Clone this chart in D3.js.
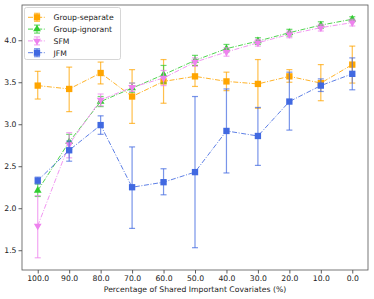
<!DOCTYPE html>
<html><head><meta charset="utf-8">
<script src="https://cdn.jsdelivr.net/npm/d3@7"></script>
<style>body{margin:0;background:#fff}svg{display:block}text{font-family:"DejaVu Sans",sans-serif}</style>
</head><body><svg id="c" width="374" height="299"></svg>
<script>
const xLabels = ["100.0","90.0","80.0","70.0","60.0","50.0","40.0","30.0","20.0","10.0","0.0"];
const xValues = [100,90,80,70,60,50,40,30,20,10,0];
const yTicks = [1.5,2.0,2.5,3.0,3.5,4.0];
const seriesNames = ["Group-separate","Group-ignorant","SFM","JFM"];
const sepMean = [3.46,3.42,3.61,3.33,3.51,3.57,3.51,3.48,3.57,3.49,3.71];
const sepLo   = [3.30,3.15,3.48,3.01,3.25,3.45,3.40,3.19,3.50,3.28,3.49];
const sepHi   = [3.63,3.68,3.74,3.65,3.77,3.70,3.62,3.77,3.65,3.71,3.93];
const ignMean = [2.21,2.79,3.27,3.43,3.59,3.76,3.90,3.99,4.09,4.18,4.25];
const ignLo   = [2.14,2.70,3.21,3.38,3.49,3.70,3.86,3.95,4.05,4.14,4.22];
const ignHi   = [2.29,2.88,3.33,3.49,3.70,3.82,3.95,4.03,4.13,4.22,4.28];
const sfmMean = [1.79,2.76,3.29,3.44,3.55,3.74,3.86,3.97,4.07,4.15,4.21];
const sfmLo   = [1.41,2.60,3.22,3.39,3.46,3.69,3.81,3.93,4.03,4.11,4.17];
const sfmHi   = [2.15,2.90,3.36,3.49,3.64,3.79,3.91,4.01,4.11,4.19,4.25];
const jfmMean = [2.33,2.69,2.99,2.25,2.31,2.43,2.92,2.86,3.27,3.46,3.60];
const jfmLo   = [2.29,2.56,2.88,1.76,2.16,1.53,2.42,2.51,2.93,3.39,3.41];
const jfmHi   = [2.37,2.80,3.10,2.73,2.47,3.33,3.42,3.20,3.62,3.54,3.79];

const colors = ["#FFA500","#32CD32","#EE82EE","#4169E1"];
const symbols = [d3.symbolSquare, d3.symbolTriangle, "tri-down", d3.symbolSquare];
const series = [
  {name:seriesNames[0], m:sepMean, lo:sepLo, hi:sepHi},
  {name:seriesNames[1], m:ignMean, lo:ignLo, hi:ignHi},
  {name:seriesNames[2], m:sfmMean, lo:sfmLo, hi:sfmHi},
  {name:seriesNames[3], m:jfmMean, lo:jfmLo, hi:jfmHi}
];

const L=22, T=5, R=368, B=270;
const x = d3.scaleLinear().domain([105,-5]).range([L,R]);
const y = d3.scaleLinear().domain([1.2646,4.4196]).range([B,T]);
const svg = d3.select("#c");

// axes
const xAxis = d3.axisBottom(x).tickValues(xValues).tickFormat((d,i)=>xLabels[i]).tickSize(3.5).tickPadding(2);
const yAxis = d3.axisLeft(y).tickValues(yTicks).tickFormat(d3.format(".1f")).tickSize(3.5).tickPadding(2);
const gx = svg.append("g").attr("transform",`translate(0,${B})`).call(xAxis);
const gy = svg.append("g").attr("transform",`translate(${L},0)`).call(yAxis);
[gx,gy].forEach(g=>{g.select(".domain").remove();g.selectAll("line").attr("stroke","#333").attr("stroke-width",0.8);
  g.selectAll("text").attr("font-size","7.7px").attr("fill","#222");});
svg.append("rect").attr("x",L).attr("y",T).attr("width",R-L).attr("height",B-T)
  .attr("fill","none").attr("stroke","#555").attr("stroke-width",0.8);
svg.append("text").attr("x",(L+R)/2).attr("y",292).attr("text-anchor","middle")
  .attr("font-size","7.7px").attr("fill","#222").text("Percentage of Shared Important Covariates (%)");

function marker(g, sym, col, cx, cy){
  if(sym==="tri-down"){
    g.append("path").attr("d",d3.symbol().type(d3.symbolTriangle).size(26)())
      .attr("transform",`translate(${cx},${cy}) rotate(180)`).attr("fill",col);
  } else {
    const size = sym===d3.symbolSquare?40:26;
    g.append("path").attr("d",d3.symbol().type(sym).size(size)())
      .attr("transform",`translate(${cx},${cy})`).attr("fill",col);
  }
}

series.forEach((s,k)=>{
  const g = svg.append("g");
  const col = colors[k];
  // error bars
  xValues.forEach((xv,i)=>{
    const cx=x(xv);
    g.append("line").attr("x1",cx).attr("x2",cx).attr("y1",y(s.lo[i])).attr("y2",y(s.hi[i]))
      .attr("stroke",col).attr("stroke-width",1.2).attr("opacity",0.7);
    [s.lo[i],s.hi[i]].forEach(v=>g.append("line").attr("x1",cx-3).attr("x2",cx+3).attr("y1",y(v)).attr("y2",y(v))
      .attr("stroke",col).attr("stroke-width",1.2).attr("opacity",0.7));
  });
  const line = d3.line().x((d,i)=>x(xValues[i])).y(d=>y(d));
  g.append("path").attr("d",line(s.m)).attr("fill","none").attr("stroke",col)
    .attr("stroke-width",1).attr("stroke-dasharray","5,1.6,1,1.6").attr("opacity",0.85);
  s.m.forEach((v,i)=>marker(g,symbols[k],col,x(xValues[i]),y(v)));
});

// legend
const lg = svg.append("g");
lg.append("rect").attr("x",24.5).attr("y",7.5).attr("width",96).attr("height",52).attr("rx",2)
  .attr("fill","#fff").attr("fill-opacity",0.8).attr("stroke","#ccc").attr("stroke-width",0.8);
series.forEach((s,k)=>{
  const yy = 17.3 + k*11.8, col=colors[k];
  lg.append("line").attr("x1",28).attr("x2",46).attr("y1",yy).attr("y2",yy).attr("stroke",col)
    .attr("stroke-width",1).attr("stroke-dasharray","5,1.6,1,1.6").attr("opacity",0.85);
  lg.append("line").attr("x1",37).attr("x2",37).attr("y1",yy-4).attr("y2",yy+4).attr("stroke",col).attr("stroke-width",1.2).attr("opacity",0.7);
  [yy-4,yy+4].forEach(v=>lg.append("line").attr("x1",34).attr("x2",40).attr("y1",v).attr("y2",v).attr("stroke",col).attr("stroke-width",1.2).attr("opacity",0.7));
  marker(lg,symbols[k],col,37,yy);
  lg.append("text").attr("x",53.5).attr("y",yy+2.8).attr("font-size","7.7px").attr("fill","#222").text(s.name);
});
</script></body></html>
